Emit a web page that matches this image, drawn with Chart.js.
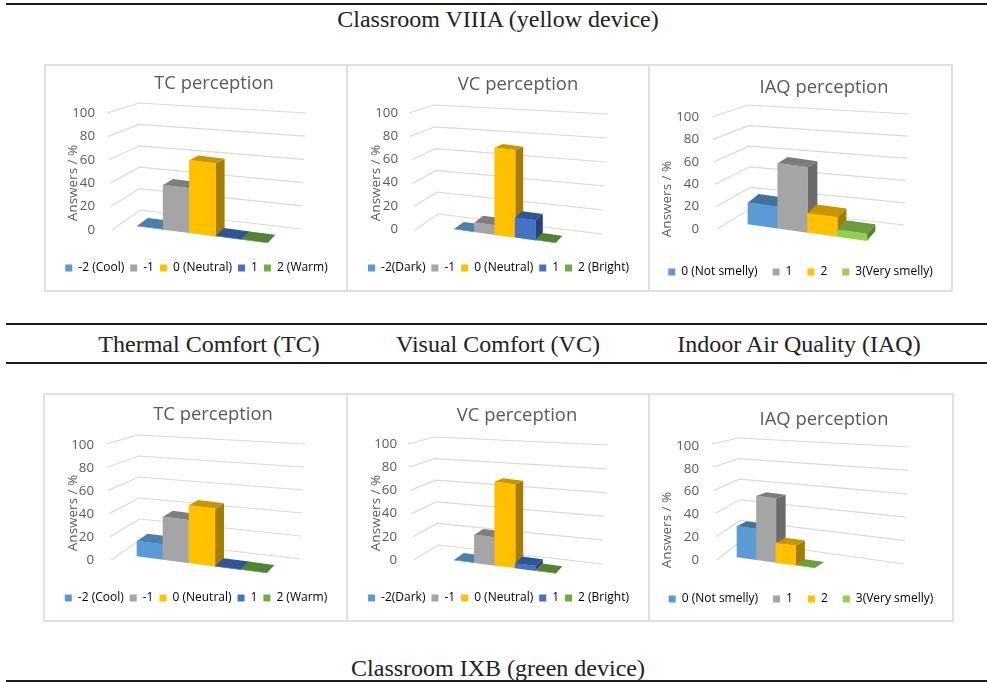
<!DOCTYPE html>
<html>
<head>
<meta charset="utf-8">
<title>Classroom perception charts</title>
<script src="https://cdn.jsdelivr.net/npm/chart.js@4/dist/chart.umd.min.js"></script>
<style>
  html, body { margin: 0; padding: 0; background: #fff; }
  body { position: relative; width: 987px; height: 682px; overflow: hidden; font-family: "Liberation Serif", serif; color: #222; }
  .rule { position: absolute; left: 6px; right: 0; height: 2px; background: #1c1c1c; }
  .cap { position: absolute; font-size: 24px; line-height: 26px; white-space: nowrap; transform: translateX(-50%); }
  .panel { position: absolute; box-sizing: border-box; outline: 2px solid #e0e0e0; outline-offset: -1px; background: #fff; }
  canvas { position: absolute; left: 1px; top: 1px; }
</style>
</head>
<body>
<div class="rule" style="top:3px"></div>
<div class="rule" style="top:323px"></div>
<div class="rule" style="top:362px"></div>
<div class="rule" style="top:680px"></div>
<div class="cap" style="left:498px;top:6px">Classroom VIIIA (yellow device)</div>
<div class="cap" style="left:209px;top:331px">Thermal Comfort (TC)</div>
<div class="cap" style="left:498px;top:331px">Visual Comfort (VC)</div>
<div class="cap" style="left:799px;top:331px">Indoor Air Quality (IAQ)</div>
<div class="cap" style="left:498px;top:655px">Classroom IXB (green device)</div>

<script>
// Categories
const tcLabels = ['-2 (Cool)', '-1', '0 (Neutral)', '1', '2 (Warm)'];
const vcLabels = ['-2(Dark)', '-1', '0 (Neutral)', '1', '2 (Bright)'];
const iaqLabels = ['0 (Not smelly)', '1', '2', '3(Very smelly)'];
const yTicks = [0, 20, 40, 60, 80, 100];

// Answers in %
const tcViiia = [0, 38, 62, 0, 0];
const vcViiia = [0, 8, 75, 17, 0];
const iaqViiia = [19, 58, 17, 6];
const tcIxb = [13, 37, 50, 0, 0];
const vcIxb = [0, 24, 72, 4, 0];
const iaqIxb = [27, 56, 17, 0];

// Front / top / side colours of the bars
const scalePalette = {
  front: ['#5b9bd5', '#a5a5a5', '#ffc000', '#4472c4', '#70ad47'],
  top: ['#4a7fae', '#7e7e7e', '#c79500', '#2f5597', '#548235'],
  side: ['#3d6a92', '#6b6b6b', '#a67c00', '#264478', '#47702d']
};
const iaqPalette = {
  front: ['#5b9bd5', '#a5a5a5', '#ffc000', '#92d050'],
  top: ['#41719c', '#7b7b7b', '#c79500', '#6d9c3c'],
  side: ['#3d6a92', '#6b6b6b', '#a67c00', '#55802c']
};

const textColor = '#595959';
const gridColor = '#d9d9d9';

// Where each panel sits on the page and how its fake 3D box is laid out
const panels = [
  { values: tcViiia, labels: tcLabels, palette: scalePalette, box: [45, 65, 303, 226],
    xLeft: 136, xRight: 267, yTop: 112, yBottom: 229, baseOff: -4, slope: 0.128, depth: [11, 7, 8],
    tickRight: 94, titleAt: [213, 83], axisAt: [72, 182], legendY: 267, legendGap: 6,
    wall: [[111, 229, 106, 112], [139, 209, 138, 102], [300, 228, 305, 112]] },
  { values: vcViiia, labels: vcLabels, palette: scalePalette, box: [347, 65, 303, 226],
    xLeft: 453, xRight: 555, yTop: 112, yBottom: 228, baseOff: 0, slope: 0.135, depth: [10, 6, 7],
    tickRight: 397, titleAt: [517, 84], axisAt: [375, 182], legendY: 267, legendGap: 6,
    wall: [[414, 229, 408, 112], [437, 213, 433, 104], [601, 233, 607, 113]] },
  { values: iaqViiia, labels: iaqLabels, palette: iaqPalette, box: [649, 65, 303, 226],
    xLeft: 747, xRight: 866, yTop: 116, yBottom: 228, baseOff: -5, slope: 0.14, depth: [11, 8, 10],
    tickRight: 698, titleAt: [823, 87], axisAt: [666, 198], legendY: 271, legendGap: 15,
    wall: [[716, 228, 711, 116], [750, 207, 747, 104], [903, 224, 908, 113]] },
  { values: tcIxb, labels: tcLabels, palette: scalePalette, box: [44, 394, 304, 227],
    xLeft: 136, xRight: 266, yTop: 444, yBottom: 559, baseOff: -4, slope: 0.13, depth: [11, 7, 8],
    tickRight: 93, titleAt: [212, 414], axisAt: [72, 512], legendY: 597, legendGap: 6,
    wall: [[110, 559, 105, 443], [139, 539, 137, 434], [299, 558, 304, 443]] },
  { values: vcIxb, labels: vcLabels, palette: scalePalette, box: [347, 394, 303, 227],
    xLeft: 453, xRight: 555, yTop: 443, yBottom: 559, baseOff: 0, slope: 0.13, depth: [10, 6, 7],
    tickRight: 396, titleAt: [516, 415], axisAt: [375, 512], legendY: 597, legendGap: 6,
    wall: [[413, 559, 407, 443], [437, 544, 433, 436], [601, 563, 607, 444]] },
  { values: iaqIxb, labels: iaqLabels, palette: iaqPalette, box: [649, 394, 304, 227],
    xLeft: 736, xRight: 814, yTop: 445, yBottom: 559, baseOff: -3, slope: 0.14, depth: [10, 9, 6],
    tickRight: 698, titleAt: [823, 419], axisAt: [666, 529], legendY: 598, legendGap: 15,
    wall: [[716, 559, 711, 443], [740, 540, 737, 437], [903, 563, 908, 446]] }
];

const family = '"Open Sans", sans-serif';

// grid lines on the side and back wall, one per y tick
const wallGrid = {
  id: 'wallGrid',
  beforeDatasetsDraw(chart, args, opts) {
    const { ctx } = chart;
    const [ox, oy] = opts.origin;
    ctx.save();
    ctx.strokeStyle = gridColor;
    ctx.lineWidth = 1.2;
    chart.scales.y.ticks.forEach(tick => {
      const t = tick.value / 100;
      ctx.beginPath();
      opts.wall.forEach((p, i) => {
        const x = p[0] + (p[2] - p[0]) * t - ox;
        const y = p[1] + (p[3] - p[1]) * t - oy;
        if (i === 0) ctx.moveTo(x, y); else ctx.lineTo(x, y);
      });
      ctx.stroke();
    });
    ctx.restore();
  }
};

// Draws each bar on a sheared floor, with side and top faces behind the normal front
const bar3d = {
  id: 'bar3d',
  beforeDatasetDraw(chart, args, opts) {
    const { ctx } = chart;
    const area = chart.chartArea;
    const [dxL, dxR, dy0] = opts.depth;
    ctx.save();
    ctx.transform(1, opts.slope, 0, 1, 0, opts.baseOff - opts.slope * area.left);
    args.meta.data.forEach((el, i) => {
      const { x, y, base, width } = el.getProps(['x', 'y', 'base', 'width'], true);
      const value = chart.data.datasets[0].data[i];
      const l = x - width / 2;
      const r = x + width / 2;
      const k = (x - area.left) / (area.right - area.left);
      const dx = dxL + (dxR - dxL) * k;
      const dy = -dy0 * (1 - value / 150) - opts.slope * dx;
      // side
      ctx.fillStyle = opts.palette.side[i];
      ctx.beginPath();
      ctx.moveTo(r, y);
      ctx.lineTo(r + dx, y + dy);
      ctx.lineTo(r + dx, base + dy);
      ctx.lineTo(r, base);
      ctx.closePath();
      ctx.fill();
      // top
      ctx.fillStyle = opts.palette.top[i];
      ctx.beginPath();
      ctx.moveTo(l, y);
      ctx.lineTo(l + dx, y + dy);
      ctx.lineTo(r + dx, y + dy);
      ctx.lineTo(r, y);
      ctx.closePath();
      ctx.fill();
      el.draw(ctx);
    });
    ctx.restore();
    return false;
  }
};

// moves the title off-centre and writes the rotated y caption where Excel left it
const placeText = {
  id: 'placeText',
  afterLayout(chart, args, opts) {
    const block = chart.titleBlock;
    const w = block.right - block.left;
    block.left = opts.titleX - w / 2;
    block.right = opts.titleX + w / 2;
  },
  afterDraw(chart, args, opts) {
    const { ctx } = chart;
    ctx.save();
    ctx.translate(opts.axisX, opts.axisY);
    ctx.rotate(-Math.PI / 2);
    ctx.font = '13.5px ' + family;
    ctx.fillStyle = textColor;
    ctx.textAlign = 'center';
    ctx.textBaseline = 'middle';
    ctx.fillText('Answers / %', 0, 0);
    ctx.restore();
  }
};

function drawPanel(p) {
  const [px, py, pw, ph] = p.box;
  const div = document.createElement('div');
  div.className = 'panel';
  div.style.cssText = `left:${px}px;top:${py}px;width:${pw}px;height:${ph}px`;
  const canvas = document.createElement('canvas');
  canvas.width = pw - 2;
  canvas.height = ph - 2;
  div.appendChild(canvas);
  document.body.appendChild(div);

  const chartH = ph - 2;
  const titleSize = 18.4;
  const titleLine = titleSize * 1.2;
  const chartTop = p.yTop - py;
  const titleTop = p.titleAt[1] - py - titleLine / 2;
  const legendSize = 12;
  // the legend keeps about 10px under its text whatever the padding is
  const legendBottom = chartH - (p.legendY - py) - legendSize / 2 - 10;
  const legendTop = chartH - legendBottom - (legendSize + p.legendGap + 10);

  new Chart(canvas, {
    type: 'bar',
    data: {
      labels: p.labels,
      datasets: [{
        data: p.values,
        backgroundColor: p.palette.front,
        borderWidth: 0,
        categoryPercentage: 1,
        barPercentage: 1
      }]
    },
    options: {
      responsive: false,
      animation: false,
      layout: { padding: { top: 0, left: 0, right: 0, bottom: legendBottom } },
      scales: {
        x: {
          grid: { display: false },
          border: { display: false },
          ticks: { display: false },
          afterFit: s => { s.height = legendTop - (p.yBottom - py); }
        },
        y: {
          min: 0,
          max: 100,
          grid: { display: false, drawTicks: false },
          border: { display: false },
          afterBuildTicks: s => { s.ticks = yTicks.map(v => ({ value: v })); },
          ticks: {
            padding: p.xLeft - p.tickRight,
            color: textColor,
            font: { family: family, size: 13.3 }
          },
          // the big tick padding would otherwise push the whole layout down
          afterFit: s => {
            s.width = p.xLeft - px;
            s.paddingTop = 0;
            s.paddingBottom = 0;
          }
        },
        // empty axis, only keeps the plot narrow without moving the legend
        spacer: {
          type: 'linear',
          position: 'right',
          grid: { display: false },
          border: { display: false },
          ticks: { display: false },
          afterFit: s => { s.width = px + pw - 2 - p.xRight; }
        }
      },
      plugins: {
        title: {
          display: true,
          text: p.values === tcViiia || p.values === tcIxb ? 'TC perception'
            : p.values === vcViiia || p.values === vcIxb ? 'VC perception' : 'IAQ perception',
          color: textColor,
          font: { family: family, size: titleSize, weight: 'normal', lineHeight: 1.2 },
          padding: { top: titleTop, bottom: chartTop - titleTop - titleLine }
        },
        legend: {
          position: 'bottom',
          labels: {
            boxWidth: 7,
            boxHeight: 7,
            padding: p.legendGap,
            color: textColor,
            font: { family: family, size: legendSize },
            generateLabels: () => p.labels.map((text, i) => ({
              text: text,
              fillStyle: p.palette.front[i],
              strokeStyle: p.palette.front[i],
              lineWidth: 0,
              hidden: false,
              index: i
            }))
          }
        },
        tooltip: { enabled: false },
        wallGrid: { wall: p.wall, origin: [px, py] },
        bar3d: { slope: p.slope, baseOff: p.baseOff, depth: p.depth, palette: p.palette },
        placeText: { titleX: p.titleAt[0] - px, axisX: p.axisAt[0] - px, axisY: p.axisAt[1] - py }
      }
    },
    plugins: [wallGrid, bar3d, placeText]
  });
}

panels.forEach(drawPanel);
</script>
</body>
</html>
